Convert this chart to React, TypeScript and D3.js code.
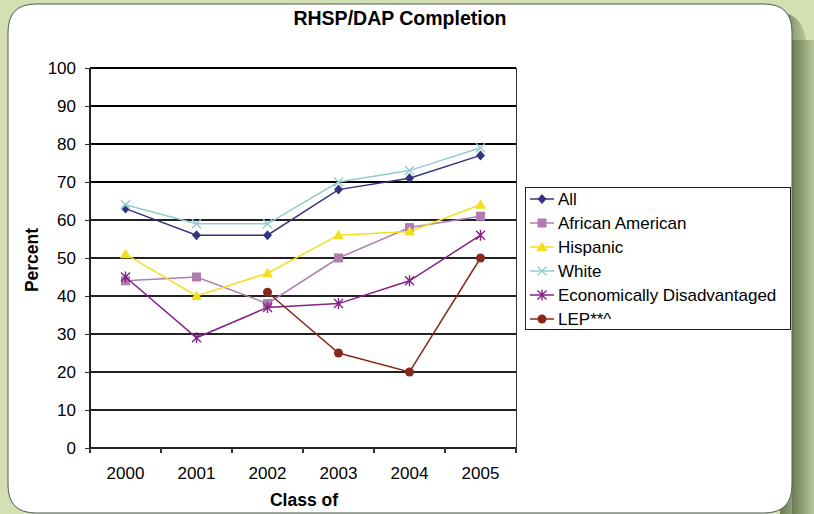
import React from "react";
import * as d3 from "d3";

const years = ["2000", "2001", "2002", "2003", "2004", "2005"];
const yTicks = [0, 10, 20, 30, 40, 50, 60, 70, 80, 90, 100];

const seriesNames = ["All", "African American", "Hispanic", "White", "Economically Disadvantaged", "LEP**^"];
const allVals: (number | null)[] = [63, 56, 56, 68, 71, 77];
const africanAmericanVals: (number | null)[] = [44, 45, 38, 50, 58, 61];
const hispanicVals: (number | null)[] = [51, 40, 46, 56, 57, 64];
const whiteVals: (number | null)[] = [64, 59, 59, 70, 73, 79];
const econVals: (number | null)[] = [45, 29, 37, 38, 44, 56];
const lepVals: (number | null)[] = [null, null, 41, 25, 20, 50];

const seriesValues = [allVals, africanAmericanVals, hispanicVals, whiteVals, econVals, lepVals];
const colors = ["#33337f", "#b07cb0", "#f2df1e", "#93cccc", "#861f86", "#88291d"];
const markers = ["diamond", "square", "triangle", "x", "star", "circle"];

const W = 814, H = 514;
const plot = { left: 90, right: 516, top: 68, bottom: 448 };

function Marker({ type, x, y, color }: { type: string; x: number; y: number; color: string }) {
  switch (type) {
    case "diamond":
      return <path d={`M${x},${y - 5}L${x + 4.5},${y}L${x},${y + 5}L${x - 4.5},${y}Z`} fill={color} />;
    case "square":
      return <rect x={x - 4.5} y={y - 4.5} width={9} height={9} fill={color} />;
    case "triangle":
      return <path d={`M${x},${y - 5.5}L${x + 5.5},${y + 4}L${x - 5.5},${y + 4}Z`} fill={color} />;
    case "x":
      return <path d={`M${x - 4.5},${y - 4.5}L${x + 4.5},${y + 4.5}M${x - 4.5},${y + 4.5}L${x + 4.5},${y - 4.5}`} stroke={color} strokeWidth={1.4} />;
    case "star":
      return (
        <path
          d={`M${x - 4.5},${y - 4.5}L${x + 4.5},${y + 4.5}M${x - 4.5},${y + 4.5}L${x + 4.5},${y - 4.5}M${x},${y - 5.5}L${x},${y + 5.5}`}
          stroke={color}
          strokeWidth={1.4}
        />
      );
    case "circle":
      return <circle cx={x} cy={y} r={4.5} fill={color} />;
    default:
      return null;
  }
}

export default function App() {
  const x = d3.scaleBand<string>().domain(years).range([plot.left, plot.right]);
  const y = d3.scaleLinear().domain([0, 100]).range([plot.bottom, plot.top]);
  const cx = (yr: string) => (x(yr) as number) + x.bandwidth() / 2;

  const line = d3
    .line<{ yr: string; v: number | null }>()
    .defined((d) => d.v !== null)
    .x((d) => cx(d.yr))
    .y((d) => y(d.v as number));

  const font = "Arial, 'Liberation Sans', sans-serif";
  const legend = { x: 525, y: 187, w: 265, h: 142, rowH: 24 };

  const panelPath = (() => {
    const l = 8, t = 4, r = 792, b = 513, rad = 28;
    return `M${l + rad},${t}H${r - rad}Q${r},${t} ${r},${t + rad}V${b - rad}Q${r},${b} ${r - rad},${b}H${l + rad}Q${l},${b} ${l},${b - rad}V${t + rad}Q${l},${t} ${l + rad},${t}Z`;
  })();

  return (
    <svg width={W} height={H} style={{ position: "absolute", left: 0, top: 0 }} fontFamily={font}>
      <defs>
        <linearGradient id="shadow" x1="0" x2="1" y1="0" y2="0">
          <stop offset="0" stopColor="#6c7b52" />
          <stop offset="1" stopColor="#b8c799" />
        </linearGradient>
      </defs>
      <rect x={0} y={0} width={W} height={H} fill="#d3e0b4" />
      <path d={`M780,12Q802,14 806,40V514H780Z`} fill="url(#shadow)" />
      <rect x={792} y={40} width={22} height={474} fill="url(#shadow)" />
      <path d={panelPath} fill="#ffffff" stroke="#555" strokeWidth={1} />

      <text x={400} y={25} textAnchor="middle" fontWeight="bold" fontSize={19.5}>
        RHSP/DAP Completion
      </text>

      {yTicks.map((t) => (
        <g key={t} shapeRendering="crispEdges">
          {t > 0 && (
            <line x1={plot.left} x2={plot.right} y1={y(t)} y2={y(t)} stroke={t >= 70 ? "#000" : "#222"} strokeWidth={1.2} />
          )}
          <line x1={plot.left - 5} x2={plot.left} y1={y(t)} y2={y(t)} stroke="#333" />
          <text x={76} y={y(t)} dy="0.36em" textAnchor="end" fontSize={17}>
            {t}
          </text>
        </g>
      ))}
      <g shapeRendering="crispEdges">
        <line x1={plot.right} x2={plot.right} y1={plot.top} y2={plot.bottom} stroke="#333" strokeWidth={1} />
        <line x1={plot.left} x2={plot.left} y1={plot.top} y2={plot.bottom} stroke="#222" strokeWidth={2} />
        <line x1={plot.left} x2={plot.right} y1={plot.bottom} y2={plot.bottom} stroke="#222" strokeWidth={2} />
        {[...years.map((yr) => x(yr) as number), plot.right].map((tx, i) => (
          <line key={i} x1={tx} x2={tx} y1={plot.bottom} y2={plot.bottom + 5} stroke="#333" strokeWidth={1.3} />
        ))}
      </g>
      {years.map((yr) => (
        <text key={yr} x={cx(yr)} y={479} textAnchor="middle" fontSize={17}>
          {yr}
        </text>
      ))}

      <text x={304} y={506} textAnchor="middle" fontWeight="bold" fontSize={17.5}>
        Class of
      </text>
      <text transform={`translate(38,260) rotate(-90)`} textAnchor="middle" fontWeight="bold" fontSize={17.5}>
        Percent
      </text>

      {seriesValues.map((vals, si) => {
        const data = years.map((yr, i) => ({ yr, v: vals[i] }));
        return (
          <g key={si}>
            <path d={line(data) || ""} fill="none" stroke={colors[si]} strokeWidth={1.5} />
            {data
              .filter((d) => d.v !== null)
              .map((d) => (
                <Marker key={d.yr} type={markers[si]} x={cx(d.yr)} y={y(d.v as number)} color={colors[si]} />
              ))}
          </g>
        );
      })}

      <rect x={legend.x} y={legend.y} width={legend.w} height={legend.h} fill="#fff" stroke="#222" strokeWidth={1} shapeRendering="crispEdges" />
      {seriesNames.map((name, i) => {
        const ly = legend.y + 12 + i * legend.rowH;
        return (
          <g key={name}>
            <line x1={530} x2={554} y1={ly} y2={ly} stroke={colors[i]} strokeWidth={1.5} />
            <Marker type={markers[i]} x={542} y={ly} color={colors[i]} />
            <text x={558} y={ly} dy="0.36em" fontSize={17}>
              {name}
            </text>
          </g>
        );
      })}
    </svg>
  );
}
